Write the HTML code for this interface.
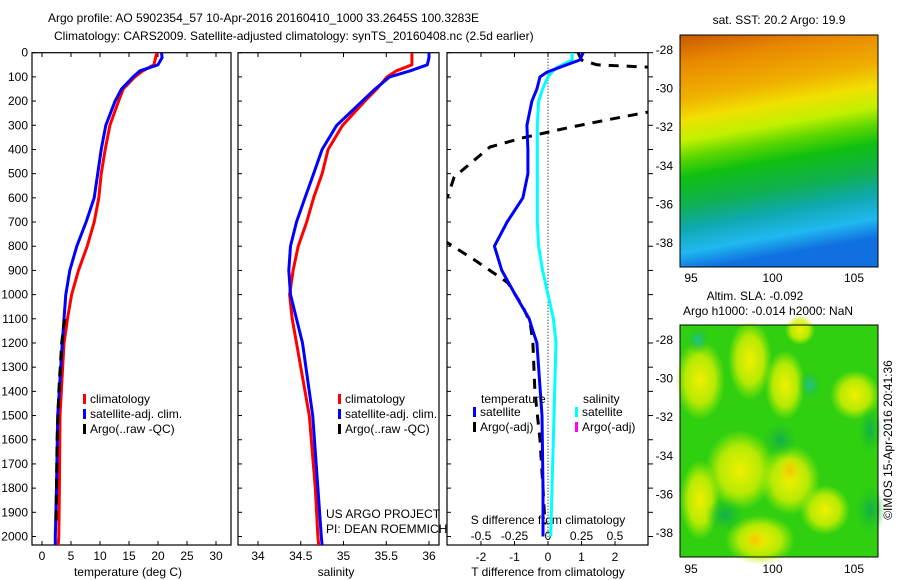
<!DOCTYPE html>
<html><head><meta charset="utf-8">
<style>
html,body{margin:0;padding:0;background:#fff;}
svg{display:block;font-family:"Liberation Sans",sans-serif;}
text{font-size:12px;fill:#000;}
</style></head>
<body>
<svg id="chart" width="900" height="580" xmlns="http://www.w3.org/2000/svg">
<defs>
<clipPath id="c1"><rect x="32" y="52.7" width="199" height="492.3"/></clipPath>
<clipPath id="c2"><rect x="238" y="52.7" width="201" height="492.3"/></clipPath>
<clipPath id="c3"><rect x="447" y="52.7" width="201" height="492.3"/></clipPath>
<linearGradient id="sstGrad" x1="0" y1="0" x2="0.15" y2="1">
<stop offset="0" stop-color="#c85800"/><stop offset="0.12" stop-color="#e88800"/>
<stop offset="0.27" stop-color="#f0b000"/><stop offset="0.36" stop-color="#f0e000"/>
<stop offset="0.45" stop-color="#c0f000"/><stop offset="0.52" stop-color="#60d800"/>
<stop offset="0.6" stop-color="#10c010"/><stop offset="0.72" stop-color="#10b050"/>
<stop offset="0.82" stop-color="#10a8b0"/><stop offset="0.92" stop-color="#20b8f0"/>
<stop offset="1" stop-color="#1070e0"/></linearGradient>
<radialGradient id="yb"><stop offset="0" stop-color="#f0f000"/><stop offset="0.6" stop-color="#d8f000" stop-opacity="0.8"/><stop offset="1" stop-color="#c0f000" stop-opacity="0"/></radialGradient>
<radialGradient id="ob"><stop offset="0" stop-color="#f8c000"/><stop offset="1" stop-color="#f0e000" stop-opacity="0"/></radialGradient>
<radialGradient id="gb"><stop offset="0" stop-color="#10b050"/><stop offset="1" stop-color="#20c020" stop-opacity="0"/></radialGradient>
<radialGradient id="cb"><stop offset="0" stop-color="#20c0a0"/><stop offset="1" stop-color="#20c020" stop-opacity="0"/></radialGradient>
</defs>
<text x="48" y="22">Argo profile: AO 5902354_57 10-Apr-2016 20160410_1000 33.2645S 100.3283E</text>
<text x="54" y="40">Climatology: CARS2009. Satellite-adjusted climatology: synTS_20160408.nc (2.5d earlier)</text>
<g id="axes"></g>
<g id="marks"></g>

<g>
<rect x="680" y="35" width="198" height="232" fill="url(#sstGrad)"/>
<rect x="680" y="35" width="198" height="232" fill="none" stroke="#000"/>
</g>
<text x="779" y="24" text-anchor="middle">sat. SST: 20.2 Argo: 19.9</text>
<g>
<rect x="680" y="325" width="198" height="232" fill="#30d010"/>
<ellipse cx="700" cy="380" rx="25" ry="40" fill="url(#yb)"/>
<ellipse cx="750" cy="360" rx="22" ry="40" fill="url(#yb)"/>
<ellipse cx="785" cy="385" rx="20" ry="35" fill="url(#yb)"/>
<ellipse cx="800" cy="330" rx="15" ry="15" fill="url(#yb)"/>
<ellipse cx="855" cy="395" rx="25" ry="25" fill="url(#yb)"/>
<ellipse cx="740" cy="470" rx="35" ry="40" fill="url(#yb)"/>
<ellipse cx="790" cy="480" rx="30" ry="35" fill="url(#yb)"/>
<ellipse cx="825" cy="510" rx="25" ry="25" fill="url(#yb)"/>
<ellipse cx="760" cy="540" rx="35" ry="25" fill="url(#yb)"/>
<ellipse cx="700" cy="500" rx="20" ry="40" fill="url(#yb)"/>
<ellipse cx="790" cy="470" rx="12" ry="14" fill="url(#ob)"/>
<ellipse cx="755" cy="540" rx="12" ry="12" fill="url(#ob)"/>
<ellipse cx="698" cy="340" rx="12" ry="14" fill="url(#cb)"/>
<ellipse cx="810" cy="385" rx="12" ry="16" fill="url(#cb)"/>
<ellipse cx="780" cy="440" rx="18" ry="18" fill="url(#gb)"/>
<ellipse cx="725" cy="515" rx="20" ry="18" fill="url(#gb)"/>
<ellipse cx="870" cy="510" rx="15" ry="25" fill="url(#gb)"/>
<ellipse cx="870" cy="430" rx="12" ry="25" fill="url(#gb)"/>
<rect x="680" y="325" width="198" height="232" fill="none" stroke="#000"/>
</g>
<text x="755" y="300" text-anchor="middle">Altim. SLA: -0.092</text>
<text x="768" y="315" text-anchor="middle">Argo h1000: -0.014 h2000: NaN</text>
<text transform="translate(892,440) rotate(-90)" text-anchor="middle">©IMOS 15-Apr-2016 20:41:36</text>
<text x="326" y="518">US ARGO PROJECT</text>
<text x="326" y="533">PI: DEAN ROEMMICH</text>
</svg>
<script>
const depthTicks = [0,100,200,300,400,500,600,700,800,900,1000,1100,1200,1300,1400,1500,1600,1700,1800,1900,2000];
const tempTicks = [0,5,10,15,20,25,30];
const salTicks = [34,34.5,35,35.5,36];
const tdiffTicks = [-2,-1,0,1,2];
const sdiffTicks = [-0.5,-0.25,0,0.25,0.5];
const latTicks = [-28,-30,-32,-34,-36,-38];
const lonTicks = [95,100,105];

const climDepth = [0,50,75,100,150,200,300,400,500,600,700,800,900,1000,1100,1200,1500,1800,2000,2035];
const climTemp  = [19.8,19.3,17.4,16.0,14.0,13.2,11.7,10.9,10.2,9.8,9.0,7.8,6.3,5.1,4.4,3.8,3.1,3.0,2.9,2.8];
const climSal   = [35.80,35.80,35.62,35.51,35.39,35.25,34.99,34.82,34.75,34.65,34.57,34.47,34.41,34.37,34.40,34.45,34.60,34.67,34.70,34.71];

const satDepth = [0,20,50,75,100,150,200,300,400,500,600,700,800,900,1000,1100,1200,1500,1800,2000,2035];
const satTemp  = [20.6,20.7,20.0,16.9,15.7,13.7,12.6,11.0,10.2,9.6,9.0,7.6,6.0,4.8,4.1,3.8,3.5,2.7,2.5,2.3,2.3];
const satSal   = [36.0,36.0,35.98,35.78,35.54,35.37,35.22,34.92,34.75,34.65,34.55,34.45,34.38,34.36,34.38,34.45,34.52,34.64,34.70,34.74,34.75];

const argoDeepDepth = [1100,1200,1400,1600,1800,1950];
const argoDeepTemp  = [3.9,3.4,2.9,2.6,2.5,2.4];

const diffDepth = [0,30,60,80,100,150,200,300,400,500,600,700,800,900,1000,1100,1150,1200,1500,1800,2000];
const tDiffSat  = [1.05,0.95,0.36,-0.03,-0.24,-0.33,-0.48,-0.63,-0.6,-0.6,-0.75,-1.22,-1.6,-1.38,-0.98,-0.56,-0.45,-0.33,-0.18,-0.15,-0.15];
const sDiffSat  = [0.18,0.18,0.07,0.03,0.0,-0.04,-0.07,-0.08,-0.08,-0.08,-0.08,-0.08,-0.07,-0.04,0.0,0.04,0.05,0.06,0.045,0.03,0.02];

const argoDiffDepth = [0,30,50,60,120,245,278,311,352,390,456,514,596,700,786,856,951,1050,1117,1200,1400,1600,1800,1950];
const tDiffArgo     = [0.9,1.0,1.46,3.0,4.5,3.0,1.76,0.57,-0.75,-1.73,-2.3,-2.8,-3.0,-4.5,-3.0,-2.2,-1.2,-0.75,-0.53,-0.45,-0.39,-0.24,-0.15,-0.09];

const yD = d => 52.7 + d*0.2419;
const xT = t => 42 + t*5.8;
const xS = s => 258 + (s-34)*85.5;
const xTd = t => 548 + t*33.5;
const xSd = s => 548 + s*134;
const NS = "http://www.w3.org/2000/svg";
const axes = document.getElementById('axes');
const marks = document.getElementById('marks');
function el(tag, attrs, parent){const e=document.createElementNS(NS,tag);for(const k in attrs)e.setAttribute(k,attrs[k]);parent.appendChild(e);return e;}
function txt(x,y,s,anchor,parent){const t=el('text',{x:x,y:y,'text-anchor':anchor||'middle'},parent);t.textContent=s;return t;}

const panels = [[32,231],[238,439],[447,648]];
panels.forEach((p,i)=>{
  const r = el('rect',{x:p[0],y:52.7,width:p[1]-p[0],height:492.3,fill:'none',stroke:'#000','stroke-width':1.2},axes);
  
  
  depthTicks.forEach(d=>{
    el('line',{x1:p[0],x2:p[0]+4,y1:yD(d),y2:yD(d),stroke:'#000'},axes);
  });
});
depthTicks.forEach(d=>{
  const t = txt(28,yD(d)+4,String(d),'end',axes);
  
  
  el('line',{x1:648,x2:653,y1:yD(d),y2:yD(d),stroke:'#000'},axes);
});
tempTicks.forEach(v=>{
  el('line',{x1:xT(v),x2:xT(v),y1:52.7,y2:57,stroke:'#000'},axes);
  el('line',{x1:xT(v),x2:xT(v),y1:545,y2:541,stroke:'#000'},axes);
  const t=txt(xT(v),560,String(v),'middle',axes);
  
  
});
salTicks.forEach(v=>{
  el('line',{x1:xS(v),x2:xS(v),y1:52.7,y2:57,stroke:'#000'},axes);
  el('line',{x1:xS(v),x2:xS(v),y1:545,y2:541,stroke:'#000'},axes);
  const t=txt(xS(v),560,String(v),'middle',axes);
  
  
});
tdiffTicks.forEach(v=>{
  el('line',{x1:xTd(v),x2:xTd(v),y1:52.7,y2:57,stroke:'#000'},axes);
  el('line',{x1:xTd(v),x2:xTd(v),y1:545,y2:541,stroke:'#000'},axes);
  const t=txt(xTd(v),561,String(v),'middle',axes);
  
  
});
sdiffTicks.forEach(v=>{
  const t=txt(xSd(v),540,String(v),'middle',axes);
  
  
});
const zl = el('line',{x1:xTd(0),x2:xTd(0),y1:52.7,y2:545,stroke:'#000','stroke-dasharray':'1,2'},axes);


[['temperature (deg C)',128,'temp-axis-title'],['salinity',336,'sal-axis-title'],['T difference from climatology',548,'tdiff-axis-title']].forEach(a=>{
  const t=txt(a[1],576,a[0],'middle',axes);
  
  
});
const st=txt(548,524,'S difference from climatology','middle',axes);


latTicks.forEach(v=>{
  [[35,50,243],[325,340,533]].forEach(m=>{
    const y = m[1] + (-28 - v)*(m[2]-m[1])/10;
    el('line',{x1:680,x2:684,y1:y,y2:y,stroke:'#000'},axes);
    el('line',{x1:878,x2:874,y1:y,y2:y,stroke:'#000'},axes);
    const t=txt(673,y+4,String(v),'end',axes);
    
    
  });
});
lonTicks.forEach(v=>{
  const x = 691 + (v-95)*16.3;
  [[35,267,282],[325,557,573]].forEach(m=>{
    el('line',{x1:x,x2:x,y1:m[0],y2:m[0]+4,stroke:'#000'},axes);
    el('line',{x1:x,x2:x,y1:m[1],y2:m[1]-4,stroke:'#000'},axes);
    const t=txt(x,m[2],String(v),'middle',axes);
    
    
  });
});

function line(xs,ds,xf,color,clip,name,dash){
  const pts = xs.map((v,i)=>xf(v).toFixed(1)+','+yD(ds[i]).toFixed(1)).join(' ');
  const p = el('polyline',{points:pts,fill:'none',stroke:color,'stroke-width':3,'clip-path':'url(#'+clip+')','stroke-linejoin':'round'},marks);
  if(dash) p.setAttribute('stroke-dasharray',dash);
  
  
}
line(climTemp,climDepth,xT,'#ff0000','c1','clim-temp-line');
line(satTemp,satDepth,xT,'#0000ff','c1','sat-temp-line');
line(argoDeepTemp,argoDeepDepth,xT,'#000','c1','argo-temp-line','10,6');
line(climSal,climDepth,xS,'#ff0000','c2','clim-sal-line');
line(satSal,satDepth,xS,'#0000ff','c2','sat-sal-line');
line(tDiffArgo,argoDiffDepth,xTd,'#000','c3','argo-tdiff-line','10,8');
line(sDiffSat,diffDepth,xSd,'#00ffff','c3','sat-sdiff-line');
line(tDiffSat,diffDepth,xTd,'#0000ff','c3','sat-tdiff-line');

function legend(x,y,color,label,name){
  const r=el('rect',{x:x,y:y-9,width:3,height:10,fill:color},marks);
  
  
  const t=txt(x+7,y,label,'start',marks);
  
  
}
legend(83,403,'#ff0000','climatology','legend-climatology-1');
legend(83,418,'#0000ff','satellite-adj. clim.','legend-satellite-1');
legend(83,433,'#000','Argo(..raw -QC)','legend-argo-1');
legend(338,403,'#ff0000','climatology','legend-climatology-2');
legend(338,418,'#0000ff','satellite-adj. clim.','legend-satellite-2');
legend(338,433,'#000','Argo(..raw -QC)','legend-argo-2');
const lt=txt(481,403,'temperature','start',marks);


const ls=txt(583,403,'salinity','start',marks);


legend(473,416,'#0000ff','satellite','legend-t-satellite');
legend(473,431,'#000','Argo(-adj)','legend-t-argo');
legend(575,416,'#00ffff','satellite','legend-s-satellite');
legend(575,431,'#ff00ff','Argo(-adj)','legend-s-argo');
</script>
</body></html>
